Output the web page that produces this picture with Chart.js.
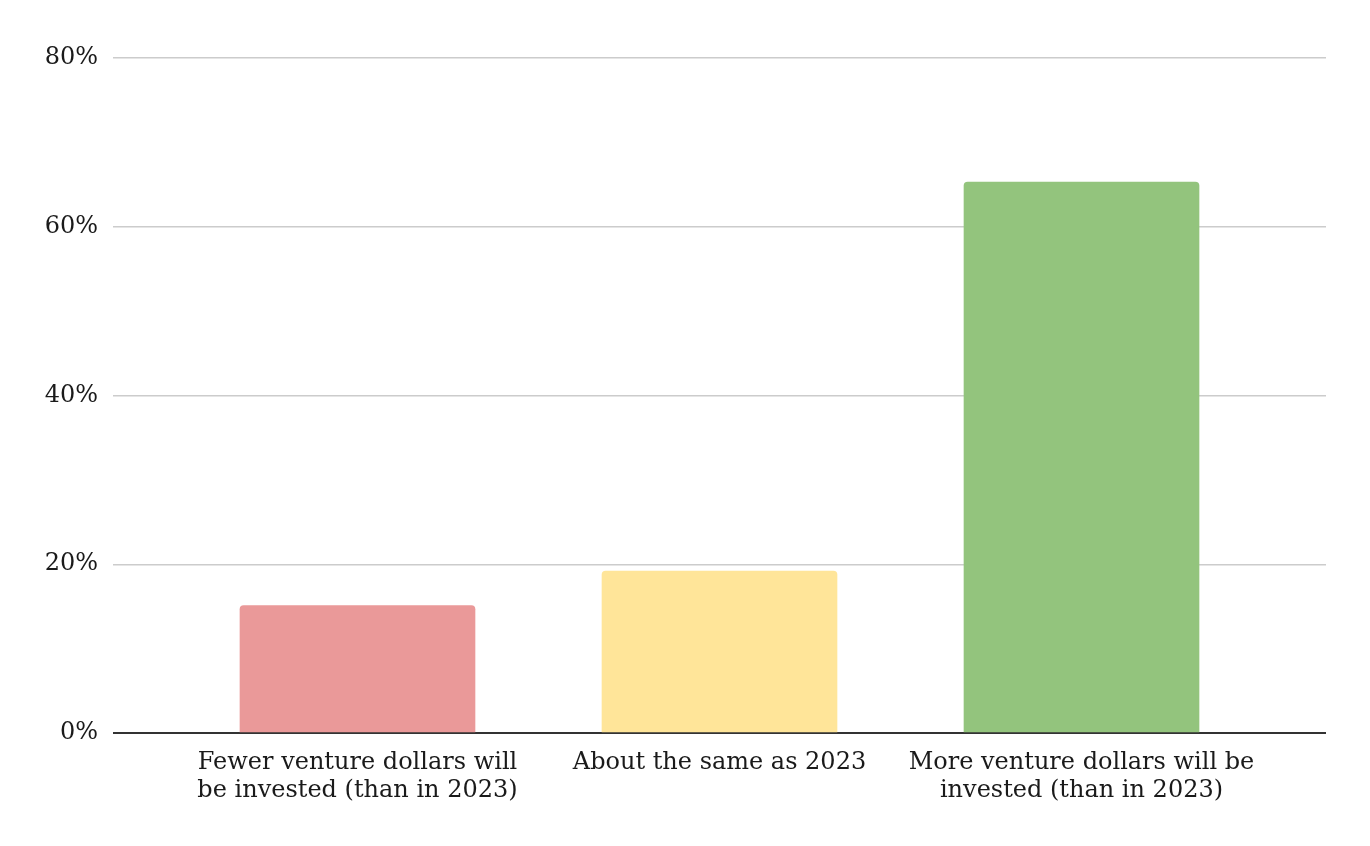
<!DOCTYPE html>
<html>
<head>
<meta charset="utf-8">
<script src="https://cdn.jsdelivr.net/npm/chart.js@4/dist/chart.umd.min.js"></script>
<style>
  html, body { margin: 0; padding: 0; background: #fff; }
  #wrap { width: 1370px; height: 846px; }
</style>
</head>
<body>
<div id="wrap"><canvas id="chart"></canvas></div>
<script>
// data
const categories = [
    ["Fewer venture dollars will", "be invested (than in 2023)"],
    ["About the same as 2023"],
    ["More venture dollars will be", "invested (than in 2023)"]
];
const shares = [15.1, 19.2, 65.3];
const barColors = ["#ea9999", "#ffe599", "#93c47d"];
const yTicks = [0, 20, 40, 60, 80];

const FONT = "'DejaVu Serif', 'Liberation Serif', serif";

// x range chosen so bars sit 362px apart in a 1213px wide plot
const span = 3.3508;

new Chart(document.getElementById('chart'), {
    type: 'bar',
    data: {
        datasets: [{
            data: shares.map((v, i) => ({ x: i, y: v })),
            backgroundColor: barColors,
            barThickness: 235,
            borderRadius: { topLeft: 4, topRight: 4, bottomLeft: 0, bottomRight: 0 },
            borderSkipped: 'start'
        }]
    },
    options: {
        responsive: true,
        maintainAspectRatio: false,
        animation: false,
        layout: { padding: { top: 58, right: 44, bottom: 0, left: 0 } },
        plugins: { legend: { display: false }, tooltip: { enabled: false } },
        scales: {
            x: {
                type: 'linear',
                offset: false,
                min: 1 - span / 2,
                max: 1 + span / 2,
                grid: { display: false },
                border: { display: false },
                afterBuildTicks: s => { s.ticks = categories.map((c, i) => ({ value: i })); },
                afterFit: s => { s.height = 113; },
                ticks: {
                    autoSkip: false,
                    maxRotation: 0,
                    padding: 8,
                    color: '#1a1a1a',
                    font: { family: FONT, size: 24, lineHeight: 1.17 },
                    callback: v => categories[v]
                }
            },
            y: {
                min: 0,
                max: 80,
                afterBuildTicks: s => { s.ticks = yTicks.map(v => ({ value: v })); },
                afterFit: s => { s.width = 113; },
                border: { display: false },
                grid: {
                    drawTicks: false,
                    color: c => c.tick.value === 0 ? '#333333' : '#cccccc',
                    lineWidth: c => c.tick.value === 0 ? 2 : 1.5
                },
                ticks: {
                    padding: 15,
                    color: '#1a1a1a',
                    font: { family: FONT, size: 24 },
                    callback: v => v + '%'
                }
            }
        }
    }
});
</script>
</body>
</html>
